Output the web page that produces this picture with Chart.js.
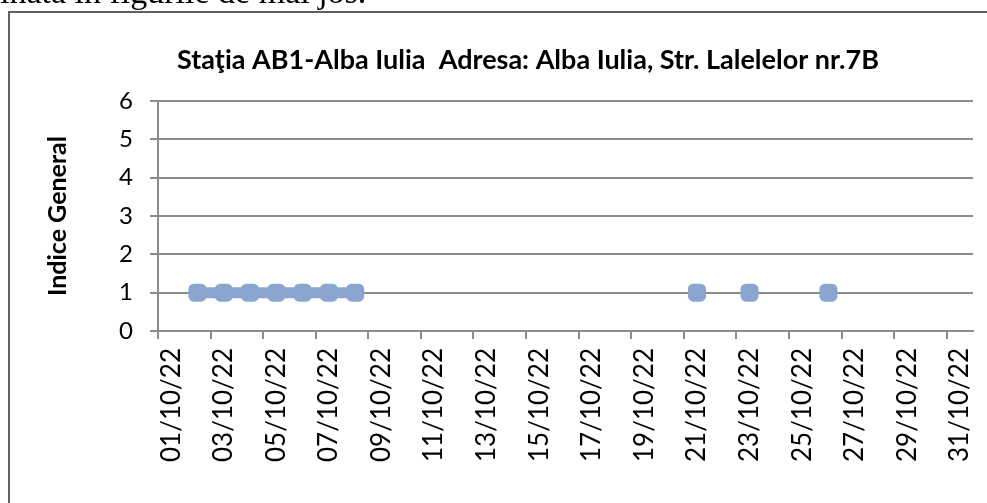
<!DOCTYPE html>
<html>
<head>
<meta charset="utf-8">
<script src="https://cdn.jsdelivr.net/npm/chart.js@4.4.1/dist/chart.umd.min.js"></script>
<style>
    html, body { margin: 0; padding: 0; background: #fff; overflow: hidden; }
    #page { position: relative; width: 987px; height: 503px; overflow: hidden; }
    #docText { position: absolute; left: 0; top: -25px; font-family: "Liberation Serif", serif; font-size: 34px; line-height: 34px; color: #000; white-space: nowrap; }
    #frame { position: absolute; left: 8px; top: 11px; width: 1100px; height: 600px; border-left: 2px solid #606060; border-top: 2px solid #606060; }
</style>
</head>
<body>
<div id="page">
    <div id="docText">inată în figurile de mai jos.</div>
    <div id="frame"></div>
    <canvas id="indiceChart" width="987" height="503"></canvas>
</div>
<script>
// chart texts
const chartTitle = 'Staţia AB1-Alba Iulia  Adresa: Alba Iulia, Str. Lalelelor nr.7B';
const yAxisTitle = 'Indice General';

// categories: every day of October 2022
const days = [
    '01/10/22', '02/10/22', '03/10/22', '04/10/22', '05/10/22', '06/10/22', '07/10/22', '08/10/22',
    '09/10/22', '10/10/22', '11/10/22', '12/10/22', '13/10/22', '14/10/22', '15/10/22', '16/10/22',
    '17/10/22', '18/10/22', '19/10/22', '20/10/22', '21/10/22', '22/10/22', '23/10/22', '24/10/22',
    '25/10/22', '26/10/22', '27/10/22', '28/10/22', '29/10/22', '30/10/22', '31/10/22'
];

// series values (null = no measurement that day)
const indiceValues = [
    null, 1, 1, 1, 1, 1, 1, 1,
    null, null, null, null, null, null, null, null,
    null, null, null, null, 1, null, 1, null,
    null, 1, null, null, null, null, null
];

// y axis range
const yMin = 0;
const yMax = 6;
const yStep = 1;

const axisGray = '#8c8c8c';
const seriesBlue = '#8aa6cf';

// Draw the chart title centred over the whole chart frame
const stationTitle = {
    id: 'stationTitle',
    afterDraw(chart) {
        const ctx = chart.ctx;
        ctx.save();
        ctx.font = 'bold 27px Lato';
        ctx.fillStyle = '#000';
        ctx.textAlign = 'center';
        ctx.textBaseline = 'middle';
        ctx.fillText(chartTitle, 528, 60);
        ctx.restore();
    }
};

function buildChart() {
    const ctx = document.getElementById('indiceChart').getContext('2d');

    new Chart(ctx, {
        type: 'line',
        data: {
            labels: days,
            datasets: [{
                label: yAxisTitle,
                data: indiceValues,
                borderColor: seriesBlue,
                backgroundColor: seriesBlue,
                borderWidth: 11,
                pointStyle: 'rectRounded',
                pointRadius: 10.5,
                pointHoverRadius: 10.5,
                pointBorderWidth: 0,
                pointBackgroundColor: seriesBlue,
                spanGaps: false,
                tension: 0
            }]
        },
        options: {
            responsive: false,
            animation: false,
            layout: {
                padding: { left: 43, top: 101, right: 14, bottom: 0 }
            },
            plugins: {
                legend: { display: false },
                tooltip: { enabled: false },
                title: { display: false }
            },
            scales: {
                x: {
                    type: 'category',
                    offset: true,
                    afterFit: (scale) => {
                        scale.height = 172;
                        scale.paddingLeft = 0;
                        scale.paddingRight = 0;
                    },
                    grid: {
                        offset: true,
                        drawOnChartArea: false,
                        drawTicks: true,
                        tickLength: 8,
                        lineWidth: 2,
                        color: (c) => (c.index % 2 === 0 ? axisGray : 'rgba(0,0,0,0)')
                    },
                    border: { display: true, color: axisGray, width: 2 },
                    ticks: {
                        autoSkip: false,
                        minRotation: 90,
                        maxRotation: 90,
                        padding: 9,
                        color: '#000',
                        font: { family: 'Lato', size: 26 },
                        callback: (value, i) => (i % 2 === 0 ? days[i] : '')
                    }
                },
                y: {
                    min: yMin,
                    max: yMax,
                    afterFit: (scale) => { scale.width = 115; },
                    grid: {
                        color: axisGray,
                        lineWidth: 2,
                        drawTicks: true,
                        tickLength: 8
                    },
                    border: { display: true, color: axisGray, width: 2 },
                    ticks: {
                        stepSize: yStep,
                        padding: 17,
                        color: '#000',
                        font: { family: 'Lato', size: 24 }
                    },
                    title: {
                        display: true,
                        text: yAxisTitle,
                        color: '#000',
                        padding: { top: 0, bottom: 0 },
                        font: { family: 'Lato', size: 25, weight: 'bold' }
                    }
                }
            }
        },
        plugins: [stationTitle]
    });
}

document.fonts.load('24px Lato').then(() => document.fonts.load('bold 27px Lato')).then(buildChart, buildChart);
</script>
</body>
</html>
